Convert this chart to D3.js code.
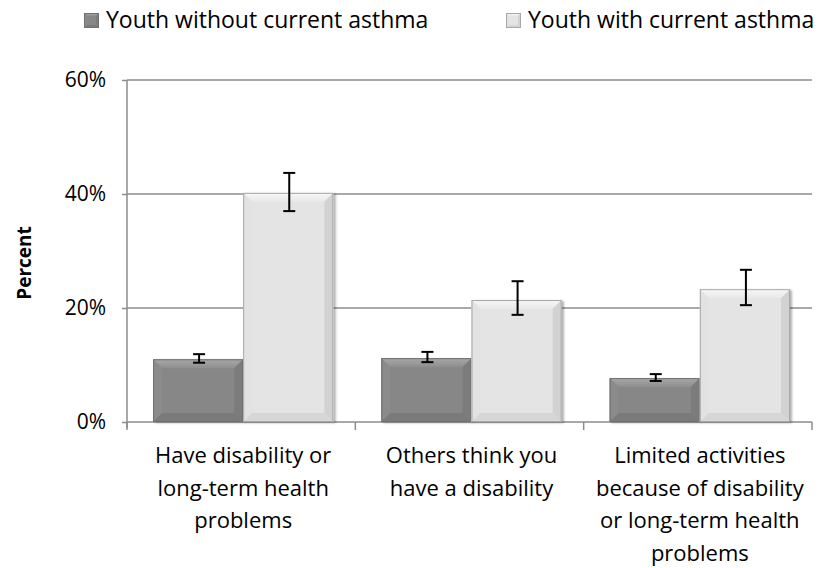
<!DOCTYPE html>
<html>
<head>
<meta charset="utf-8">
<script src="https://cdn.jsdelivr.net/npm/d3@7"></script>
<style>
  body { margin: 0; background: #fff; }
  svg { display: block; }
  text { font-family: "Open Sans", sans-serif; fill: #000; }
</style>
</head>
<body>
<svg id="chart" width="830" height="568"></svg>
<script>
// data (percent)
const categories = [
  ['Have disability or', 'long-term health', 'problems'],
  ['Others think you', 'have a disability'],
  ['Limited activities', 'because of disability', 'or long-term health', 'problems']
]
const seriesNames = ['Youth without current asthma', 'Youth with current asthma']
const withoutAsthma = [11.0, 11.2, 7.7]
const withoutLow = [10.4, 10.5, 7.2]
const withoutHigh = [11.9, 12.3, 8.4]
const withAsthma = [40.2, 21.4, 23.3]
const withLow = [37.0, 18.8, 20.5]
const withHigh = [43.7, 24.7, 26.7]
const yTicks = [0, 20, 40, 60]

const margin = { top: 80, right: 18, bottom: 146, left: 127 }
const width = 830, height = 568

const palettes = [
  { main: '#878787', edge: '#707070', top: ['#a8a8a8', '#8e8e8e'], left: '#8b8b8b', right: '#7c7c7c', bottom: '#7a7a7a' },
  { main: '#e4e4e4', edge: '#a8a8a8', top: ['#f7f7f7', '#e8e8e8'], left: '#e2e2e2', right: '#d2d2d2', bottom: '#d6d6d6' }
]

const data = categories.map((c, i) => ({
  index: i,
  values: [
    { s: 0, v: withoutAsthma[i], lo: withoutLow[i], hi: withoutHigh[i] },
    { s: 1, v: withAsthma[i], lo: withLow[i], hi: withHigh[i] }
  ]
}))

const svg = d3.select('#chart')

const defs = svg.append('defs')
defs.append('filter')
  .attr('id', 'bar-shadow')
  .attr('x', '-10%').attr('y', '-10%')
  .attr('width', '130%').attr('height', '130%')
  .append('feDropShadow')
  .attr('dx', 2).attr('dy', 1)
  .attr('stdDeviation', 1.2)
  .attr('flood-color', '#000')
  .attr('flood-opacity', 0.3)

palettes.forEach((p, i) => {
  defs.append('linearGradient')
    .attr('id', `top-grad-${i}`)
    .attr('x1', 0).attr('y1', 0).attr('x2', 0).attr('y2', 1)
    .selectAll('stop')
    .data([{ offset: '0%', color: p.top[0] }, { offset: '100%', color: p.top[1] }])
    .enter().append('stop')
    .attr('offset', d => d.offset)
    .attr('stop-color', d => d.color)
})

const x0 = d3.scaleBand()
  .domain(d3.range(categories.length))
  .range([margin.left, width - margin.right])
  .padding(0)

const x1 = d3.scaleBand()
  .domain([0, 1])
  .range([26, x0.bandwidth() - 22])
  .padding(0)

const y = d3.scaleLinear()
  .domain([0, 60])
  .range([height - margin.bottom, margin.top])

// grid lines
svg.append('g')
  .attr('class', 'grid')
  .selectAll('line')
  .data(yTicks)
  .enter().append('line')
  .attr('x1', margin.left).attr('x2', width - margin.right)
  .attr('y1', d => y(d)).attr('y2', d => y(d))
  .attr('stroke', '#8c8c8c')
  .attr('stroke-width', 1.5)

// y axis
const yAxis = g => g
  .attr('transform', `translate(${margin.left},0)`)
  .call(d3.axisLeft(y).tickValues(yTicks).tickSize(5).tickPadding(16).tickFormat(d => d + '%'))
  .call(g => g.select('.domain').attr('stroke', '#8c8c8c').attr('stroke-width', 1.5)
    .attr('d', `M0,${y(60)}V${y(0) + 6}`))
  .call(g => g.selectAll('.tick line').attr('stroke', '#8c8c8c').attr('stroke-width', 1.5))
  .call(g => g.selectAll('.tick text').attr('font-size', 21).attr('fill', '#000')
    .attr('font-family', '"Open Sans", sans-serif'))
svg.append('g').attr('class', 'yAxis').call(yAxis)

// x axis boundary ticks
const boundaries = d3.range(categories.length + 1).map(i =>
  i < categories.length ? x0(i) : x0(i - 1) + x0.bandwidth())
svg.append('g')
  .attr('class', 'xTicks')
  .selectAll('line')
  .data(boundaries)
  .enter().append('line')
  .attr('x1', d => d).attr('x2', d => d)
  .attr('y1', y(0)).attr('y2', y(0) + 8)
  .attr('stroke', '#8c8c8c')
  .attr('stroke-width', 1.5)

// bevelled bar
const bevelBar = (g, bx, by, bw, bh, p, idx, bevel) => {
  const b = Math.min(bevel, bh / 2, bw / 2)
  g.append('rect')
    .attr('x', bx).attr('y', by).attr('width', bw).attr('height', bh)
    .attr('fill', p.main)
  const poly = pts => pts.map(pt => pt.join(',')).join(' ')
  g.append('polygon')
    .attr('points', poly([[bx, by], [bx + bw, by], [bx + bw - b, by + b], [bx + b, by + b]]))
    .attr('fill', `url(#top-grad-${idx})`)
  g.append('polygon')
    .attr('points', poly([[bx, by], [bx + b, by + b], [bx + b, by + bh - b], [bx, by + bh]]))
    .attr('fill', p.left)
  g.append('polygon')
    .attr('points', poly([[bx + bw, by], [bx + bw, by + bh], [bx + bw - b, by + bh - b], [bx + bw - b, by + b]]))
    .attr('fill', p.right)
  g.append('polygon')
    .attr('points', poly([[bx, by + bh], [bx + b, by + bh - b], [bx + bw - b, by + bh - b], [bx + bw, by + bh]]))
    .attr('fill', p.bottom)
  g.append('rect')
    .attr('x', bx + 0.5).attr('y', by + 0.5).attr('width', bw - 1).attr('height', bh - 1)
    .attr('fill', 'none')
    .attr('stroke', p.edge)
    .attr('stroke-width', 1)
}

// bars
const groups = svg.append('g')
  .attr('class', 'bars')
  .selectAll('g')
  .data(data)
  .enter().append('g')
  .attr('transform', d => `translate(${x0(d.index)},0)`)

groups.each(function (d) {
  const g = d3.select(this)
  d.values.forEach(v => {
    const bar = g.append('g').attr('filter', 'url(#bar-shadow)')
    bevelBar(bar, x1(v.s), y(v.v), x1.bandwidth(), y(0) - y(v.v), palettes[v.s], v.s, 9)
  })
  // error bars
  d.values.forEach(v => {
    const cx = x1(v.s) + x1.bandwidth() / 2 + 1
    const eb = g.append('g')
      .attr('stroke', '#000')
      .attr('stroke-width', 2)
    eb.append('line')
      .attr('x1', cx).attr('x2', cx)
      .attr('y1', y(v.hi)).attr('y2', y(v.lo))
    eb.selectAll('.cap')
      .data([v.hi, v.lo])
      .enter().append('line')
      .attr('class', 'cap')
      .attr('x1', cx - 6).attr('x2', cx + 6)
      .attr('y1', e => y(e)).attr('y2', e => y(e))
  })
})

// category labels
svg.append('g')
  .attr('class', 'xLabels')
  .selectAll('text')
  .data(categories)
  .enter().append('text')
  .attr('text-anchor', 'middle')
  .attr('font-size', 22)
  .attr('transform', (d, i) => `translate(${x0(i) + x0.bandwidth() / 2 + 2},${y(0) + 41})`)
  .selectAll('tspan')
  .data(d => d)
  .enter().append('tspan')
  .attr('x', 0)
  .attr('y', (d, i) => i * 32.5)
  .text(d => d)

// y axis title
svg.append('text')
  .attr('transform', `translate(31,${(y(20) + y(40)) / 2 + 12}) rotate(-90)`)
  .attr('text-anchor', 'middle')
  .attr('font-size', 19)
  .attr('font-weight', 'bold')
  .text('Percent')

// legend
const legendX = [84, 506]
const legend = svg.append('g')
  .attr('class', 'legend')
  .selectAll('g')
  .data(seriesNames)
  .enter().append('g')
  .attr('transform', (d, i) => `translate(${legendX[i]},13)`)

legend.each(function (d, i) {
  const g = d3.select(this)
  bevelBar(g, 0, 0, 15, 15, palettes[i], i, 3)
  g.append('text')
    .attr('x', 22)
    .attr('y', 15)
    .attr('font-size', 23)
    .text(d)
})
</script>
</body>
</html>
